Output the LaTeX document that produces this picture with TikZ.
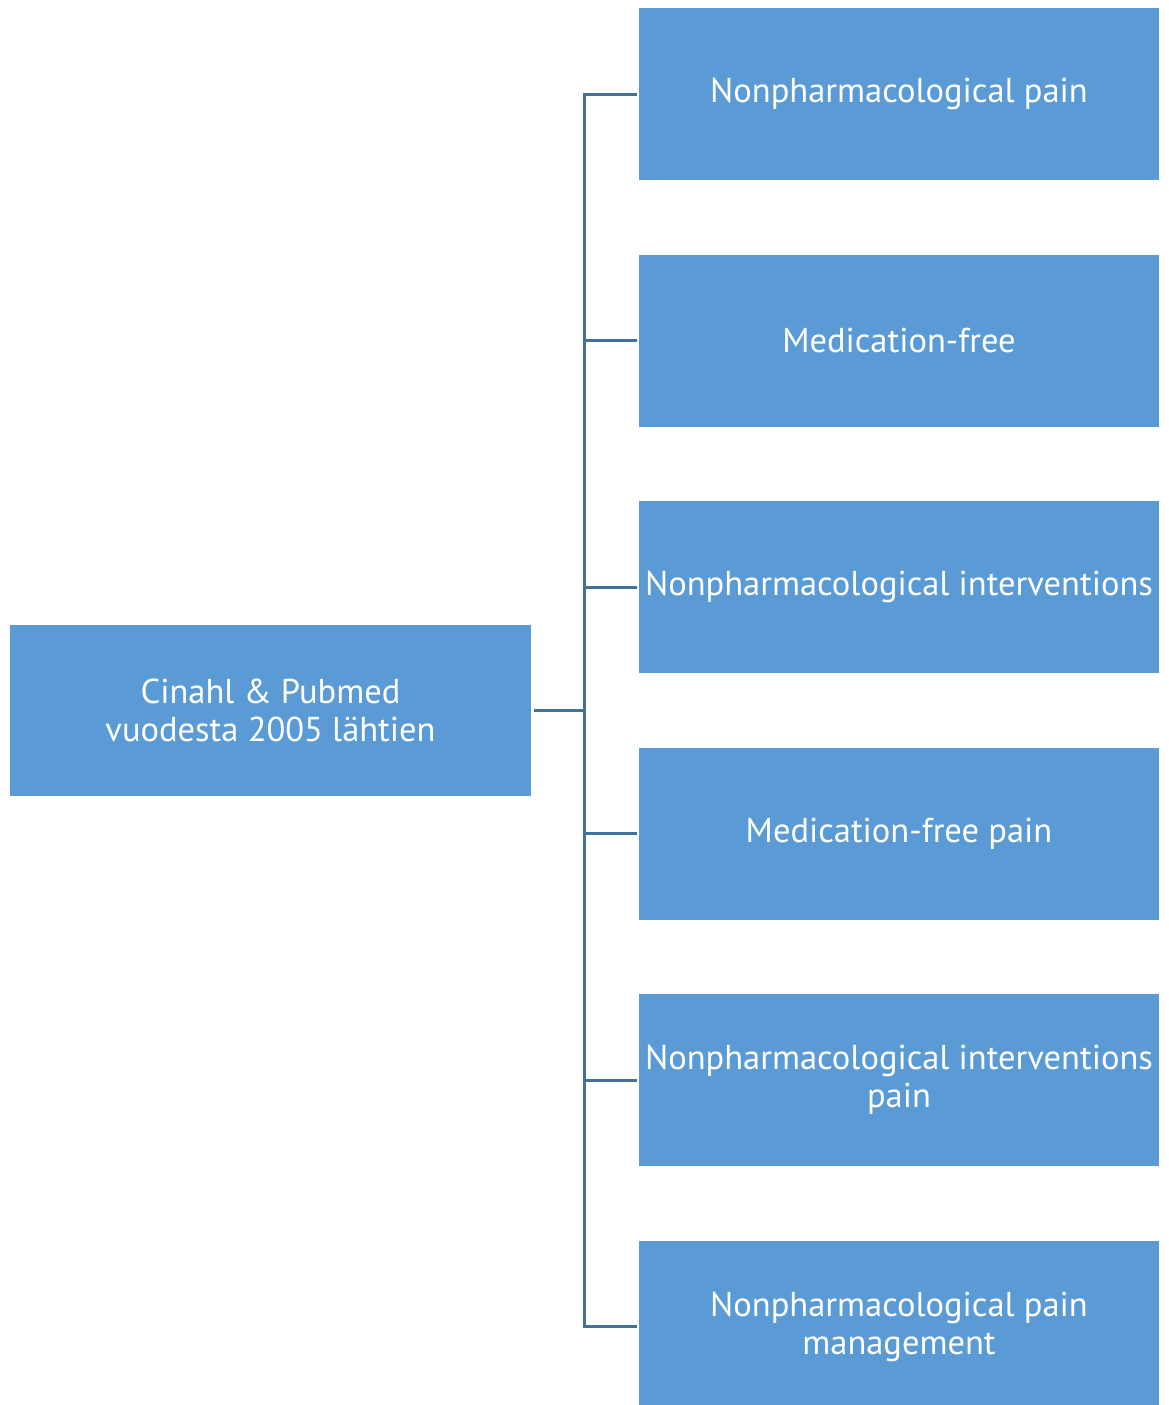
\documentclass[tikz,border=0pt]{standalone}
\usepackage{fontspec}
\setmainfont{PT Sans}
\usepackage{tikz}
\usetikzlibrary{calc}

\definecolor{boxblue}{HTML}{5B9BD5}
\definecolor{lineblue}{HTML}{41719C}

\tikzset{
  termbox/.style={fill=boxblue, draw=none, text=white, align=center,
    minimum width=520pt, minimum height=172pt, inner sep=0pt,
    font=\fontsize{34.5}{38}\selectfont},
  conn/.style={draw=lineblue, line width=3pt}
}

\begin{document}
\begin{tikzpicture}[x=1pt, y=-1pt]
\useasboundingbox (0,0) rectangle (1168,1405);

%draw source box
\node[termbox, minimum width=521pt, minimum height=171pt] (src) at (270.5,710.5) {Cinahl \& Pubmed\\vuodesta 2005 lähtien};

%draw search term boxes
\node[termbox] (t1) at (899,94) {Nonpharmacological pain};
\node[termbox] (t2) at (899,340.5) {Medication-free};
\node[termbox] (t3) at (899,587) {Nonpharmacological interventions};
\node[termbox] (t4) at (899,833.5) {Medication-free pain};
\node[termbox] (t5) at (899,1080) {Nonpharmacological interventions\\pain};
\node[termbox] (t6) at (899,1326.5) {Nonpharmacological pain\\management};

%draw connectors
\coordinate (trunk) at (585,710.5);
\draw[conn] ([xshift=3pt]src.east) -- (trunk);
\foreach \i in {1,...,6}
   \draw[conn] ([xshift=-2pt]t\i.west) -- ++(-52,0) |- (trunk);
\end{tikzpicture}
\end{document}
